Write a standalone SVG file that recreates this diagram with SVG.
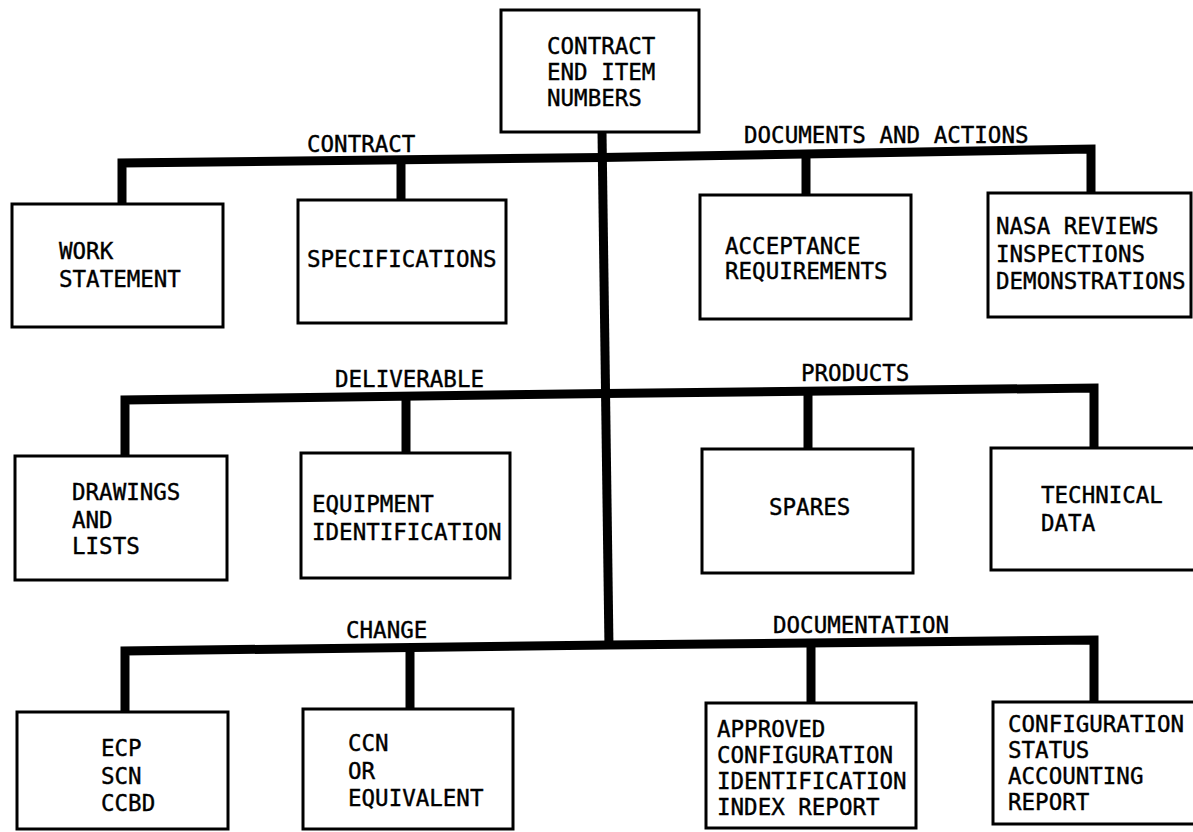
<svg xmlns="http://www.w3.org/2000/svg" width="1193" height="832" viewBox="0 0 1193 832">
<style>
.box{fill:#fff;stroke:#000;stroke-width:3}
.t{font-family:"DejaVu Sans Mono","Liberation Mono",monospace;font-size:22.5px;fill:#000;stroke:#000;stroke-width:0.4}
.bar{fill:none;stroke:#000;stroke-width:9;stroke-linejoin:miter}
</style>
<rect width="1193" height="832" fill="#fff"/>
<g id="connectors">
<path class="bar" d="M602,132 L609,648"/>
<path class="bar" d="M122,204 V163 L602,157.5 L1091,149 V193"/>
<path class="bar" d="M401,160 V200"/>
<path class="bar" d="M806,153 V195"/>
<path class="bar" d="M125,457 V400 L605,393.5 L1094,388 V448"/>
<path class="bar" d="M406,397 V453"/>
<path class="bar" d="M808,391 V449"/>
<path class="bar" d="M125,712 V651 L608,645 L1094,640 V702"/>
<path class="bar" d="M410,648 V709"/>
<path class="bar" d="M811,643 V703"/>
</g>
<g id="labels">
<text class="t" x="307" y="152">CONTRACT</text>
<text class="t" x="744" y="143">DOCUMENTS AND ACTIONS</text>
<text class="t" x="335" y="387">DELIVERABLE</text>
<text class="t" x="801" y="381">PRODUCTS</text>
<text class="t" x="346" y="638">CHANGE</text>
<text class="t" x="773" y="633">DOCUMENTATION</text>
</g>
<g id="node-ceins">
<rect class="box" x="501" y="10" width="198" height="122"/>
<text class="t" x="547" y="54">CONTRACT</text>
<text class="t" x="547" y="80">END ITEM</text>
<text class="t" x="547" y="106">NUMBERS</text>
</g>
<g id="node-work">
<rect class="box" x="12" y="204" width="211" height="123"/>
<text class="t" x="59" y="259">WORK</text>
<text class="t" x="59" y="287">STATEMENT</text>
</g>
<g id="node-spec">
<rect class="box" x="298" y="200" width="208" height="123"/>
<text class="t" x="307" y="267">SPECIFICATIONS</text>
</g>
<g id="node-accept">
<rect class="box" x="700" y="195" width="211" height="124"/>
<text class="t" x="725" y="254">ACCEPTANCE</text>
<text class="t" x="725" y="279">REQUIREMENTS</text>
</g>
<g id="node-nasa">
<rect class="box" x="988" y="193" width="203" height="124"/>
<text class="t" x="996" y="234">NASA REVIEWS</text>
<text class="t" x="996" y="262">INSPECTIONS</text>
<text class="t" x="996" y="289">DEMONSTRATIONS</text>
</g>
<g id="node-drawings">
<rect class="box" x="15" y="456" width="212" height="124"/>
<text class="t" x="72" y="500">DRAWINGS</text>
<text class="t" x="72" y="528">AND</text>
<text class="t" x="72" y="554">LISTS</text>
</g>
<g id="node-equip">
<rect class="box" x="301" y="453" width="209" height="125"/>
<text class="t" x="312" y="512">EQUIPMENT</text>
<text class="t" x="312" y="540">IDENTIFICATION</text>
</g>
<g id="node-spares">
<rect class="box" x="702" y="449" width="211" height="124"/>
<text class="t" x="769" y="515">SPARES</text>
</g>
<g id="node-techdata">
<rect class="box" x="991" y="448" width="220" height="122"/>
<text class="t" x="1041" y="503">TECHNICAL</text>
<text class="t" x="1041" y="531">DATA</text>
</g>
<g id="node-ecp">
<rect class="box" x="17" y="712" width="211" height="117"/>
<text class="t" x="101" y="756">ECP</text>
<text class="t" x="101" y="784">SCN</text>
<text class="t" x="101" y="811">CCBD</text>
</g>
<g id="node-ccn">
<rect class="box" x="303" y="709" width="210" height="120"/>
<text class="t" x="348" y="751">CCN</text>
<text class="t" x="348" y="779">OR</text>
<text class="t" x="348" y="806">EQUIVALENT</text>
</g>
<g id="node-acir">
<rect class="box" x="706" y="703" width="210" height="125"/>
<text class="t" x="717" y="737">APPROVED</text>
<text class="t" x="717" y="763">CONFIGURATION</text>
<text class="t" x="717" y="789">IDENTIFICATION</text>
<text class="t" x="717" y="815">INDEX REPORT</text>
</g>
<g id="node-csar">
<rect class="box" x="993" y="702" width="220" height="122"/>
<text class="t" x="1008" y="732">CONFIGURATION</text>
<text class="t" x="1008" y="758">STATUS</text>
<text class="t" x="1008" y="784">ACCOUNTING</text>
<text class="t" x="1008" y="810">REPORT</text>
</g>
</svg>
